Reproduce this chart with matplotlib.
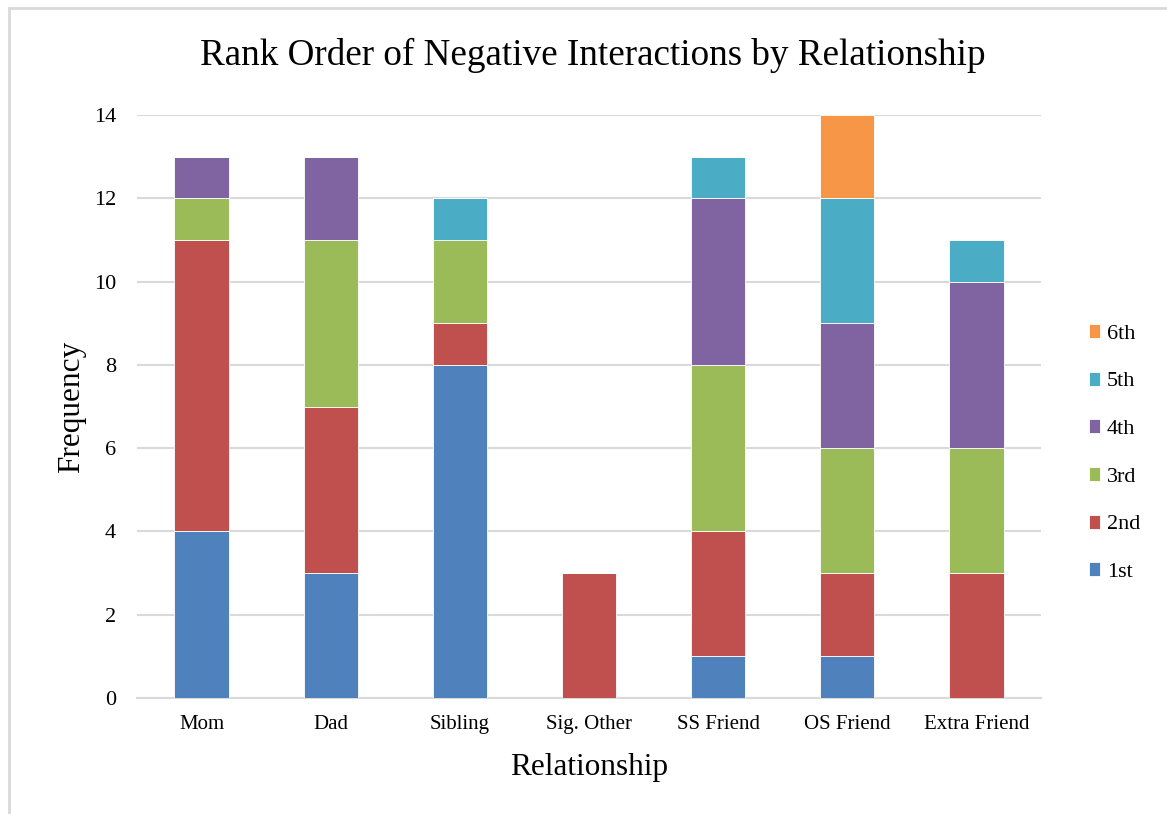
import matplotlib
matplotlib.use("Agg")
import matplotlib.pyplot as plt
from matplotlib.patches import Rectangle
import numpy as np

plt.rcParams['font.family'] = ['Liberation Serif', 'DejaVu Serif']

categories = ["Mom", "Dad", "Sibling", "Sig. Other", "SS Friend", "OS Friend", "Extra Friend"]
ranks = ["1st", "2nd", "3rd", "4th", "5th", "6th"]
first  = [4, 3, 8, 0, 1, 1, 0]
second = [7, 4, 1, 3, 3, 2, 3]
third  = [1, 4, 2, 0, 4, 3, 3]
fourth = [1, 2, 0, 0, 4, 3, 4]
fifth  = [0, 0, 1, 0, 1, 3, 1]
sixth  = [0, 0, 0, 0, 0, 2, 0]
series = [first, second, third, fourth, fifth, sixth]
colors = ["#4F81BD", "#C0504D", "#9BBB59", "#8064A2", "#4BACC6", "#F79646"]
yticks = [0, 2, 4, 6, 8, 10, 12, 14]

fig = plt.figure(figsize=(11.67, 8.14), dpi=100)
ax = fig.add_axes([137/1167, 1-698/814, (1041-137)/1167, (698-115)/814])

x = np.arange(len(categories))
bottom = np.zeros(len(categories))
handles = []
for vals, col, lab in zip(series, colors, ranks):
    v = np.array(vals, dtype=float)
    b = ax.bar(x, v, width=0.42, bottom=bottom, color=col, label=lab,
               edgecolor='white', linewidth=0.6, zorder=3)
    handles.append(b)
    bottom += v

ax.set_xlim(-0.5, len(categories) - 0.5)
ax.set_ylim(0, 14)
ax.set_yticks(yticks)
ax.set_yticklabels([str(t) for t in yticks], fontsize=16)
ax.set_xticks(x)
ax.set_xticklabels(categories, fontsize=15)
ax.tick_params(axis='x', length=0, pad=12)
ax.tick_params(axis='y', length=0, pad=15)
ax.grid(axis='y', color='#d9d9d9', linewidth=1.5, zorder=0)
ax.set_axisbelow(True)
for s in ['top', 'right', 'left']:
    ax.spines[s].set_visible(False)
ax.spines['bottom'].set_color('#d9d9d9')
ax.spines['bottom'].set_linewidth(1.5)

ax.set_xlabel("Relationship", fontsize=22.5, labelpad=14)
ax.set_ylabel("Frequency", fontsize=22.5, labelpad=6)
fig.text(593/1167, 1-55/814, "Rank Order of Negative Interactions by Relationship",
         fontsize=26.7, ha='center', va='center')

leg = fig.legend(handles[::-1], ranks[::-1], loc='center left',
                 bbox_to_anchor=(1089/1167, 1-453/814), frameon=False, fontsize=16,
                 handlelength=0.5, handleheight=0.6, handletextpad=0.3,
                 labelspacing=1.25, borderpad=0, borderaxespad=0)

fig.patches.append(Rectangle((9/1167, -0.1), 1.2, 1 - 8/814 + 0.1,
                             transform=fig.transFigure, fill=False,
                             edgecolor='#d9d9d9', linewidth=2))

fig.savefig("out.png", dpi=100)
